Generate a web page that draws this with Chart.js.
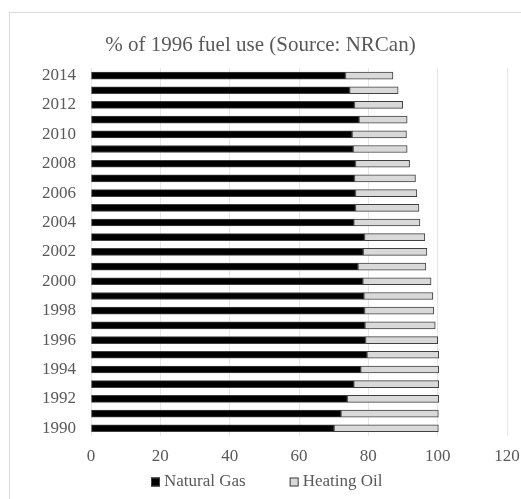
<!DOCTYPE html>
<html>
<head>
<meta charset="utf-8">
<script src="https://cdn.jsdelivr.net/npm/chart.js@4/dist/chart.umd.min.js"></script>
<style>
  html, body { margin: 0; padding: 0; background: #fff; }
  #wrap { width: 521px; height: 499px; position: relative; }
</style>
</head>
<body>
<div id="wrap"><canvas id="fuel-chart"></canvas></div>
<script>
// % of 1996 fuel use
const years = ['1990', '1991', '1992', '1993', '1994', '1995', '1996', '1997', '1998', '1999',
               '2000', '2001', '2002', '2003', '2004', '2005', '2006', '2007', '2008', '2009',
               '2010', '2011', '2012', '2013', '2014'];
const naturalGas = [70.1, 72.1, 73.9, 75.8, 77.8, 79.6, 79.2, 79.0, 78.9, 78.7,
                    78.4, 77.0, 78.5, 78.9, 75.8, 76.3, 76.3, 76.0, 76.3, 75.6,
                    75.3, 77.3, 76.0, 74.6, 73.4];
const heatingOil = [30.1, 28.1, 26.4, 24.5, 22.5, 20.7, 20.8, 20.3, 20.0, 19.9,
                    19.7, 19.6, 18.4, 17.4, 19.1, 18.3, 17.7, 17.6, 15.6, 15.6,
                    15.7, 13.9, 13.9, 14.0, 13.7];
const xTicks = [0, 20, 40, 60, 80, 100, 120];

const serif = 'Liberation Serif, Times New Roman, serif';
const textGrey = '#595959';

// light frame round the whole chart, like the spreadsheet export
const framePlugin = {
    id: 'frame',
    beforeDraw: function(chart) {
        const ctx = chart.ctx;
        ctx.save();
        ctx.fillStyle = '#fff';
        ctx.fillRect(0, 0, chart.width, chart.height);
        ctx.strokeStyle = '#d9d9d9';
        ctx.lineWidth = 1;
        ctx.strokeRect(9.5, 12.5, 700, 700);
        ctx.restore();
    }
};

// Excel-style legend: small square hugging the text, wide gap between items
const legendPlugin = {
    id: 'xlLegend',
    afterDraw: function(chart) {
        const ctx = chart.ctx;
        const box = 9;
        const gap = 44;
        const y = chart.height - 17;
        ctx.save();
        ctx.font = '17px ' + serif;
        ctx.textBaseline = 'middle';
        let x = 151;
        chart.data.datasets.forEach(ds => {
            ctx.fillStyle = ds.backgroundColor;
            ctx.fillRect(x, y - box / 2, box, box);
            ctx.strokeStyle = ds.borderColor;
            ctx.lineWidth = 1;
            ctx.strokeRect(x + 0.5, y - box / 2 + 0.5, box - 1, box - 1);
            ctx.fillStyle = textGrey;
            ctx.fillText(ds.label, x + box + 4, y);
            x += box + 4 + ctx.measureText(ds.label).width + gap;
        });
        ctx.restore();
    }
};

new Chart(document.getElementById('fuel-chart'), {
    type: 'bar',
    data: {
        labels: years,
        datasets: [
            {
                label: 'Natural Gas',
                data: naturalGas,
                backgroundColor: '#000000',
                borderColor: '#404040',
                borderWidth: 1,
                borderSkipped: false,
                barThickness: 7
            },
            {
                label: 'Heating Oil',
                data: heatingOil,
                backgroundColor: '#d9d9d9',
                borderColor: '#404040',
                borderWidth: 1,
                borderSkipped: false,
                barThickness: 7
            }
        ]
    },
    options: {
        indexAxis: 'y',
        responsive: true,
        maintainAspectRatio: false,
        animation: false,
        layout: { padding: { left: 0, right: 0, top: 0, bottom: 21 } },
        plugins: {
            title: {
                display: true,
                text: '% of 1996 fuel use (Source: NRCan)',
                color: textGrey,
                font: { family: serif, size: 21, weight: 'normal' },
                padding: { top: 33, bottom: 10 }
            },
            legend: { display: false },
            tooltip: { enabled: false }
        },
        scales: {
            x: {
                stacked: true,
                min: 0,
                max: 120,
                afterBuildTicks: function(scale) {
                    scale.ticks = xTicks.map(v => ({ value: v }));
                },
                // only keep room for half of the "120" label on the right
                afterFit: function(scale) { scale.paddingRight = 14; },
                grid: { color: '#e6e6e6', drawTicks: false },
                border: { display: false },
                ticks: {
                    color: textGrey,
                    font: { family: serif, size: 17 },
                    padding: 11
                }
            },
            y: {
                stacked: true,
                reverse: true,
                afterFit: function(scale) { scale.width = 91; },
                grid: { display: false, drawTicks: false },
                border: { color: '#e6e6e6' },
                ticks: {
                    autoSkip: false,
                    color: textGrey,
                    font: { family: serif, size: 17 },
                    padding: 15,
                    callback: function(value) {
                        const year = this.getLabelForValue(value);
                        return Number(year) % 2 === 0 ? year : '';
                    }
                }
            }
        }
    },
    plugins: [framePlugin, legendPlugin]
});
</script>
</body>
</html>
